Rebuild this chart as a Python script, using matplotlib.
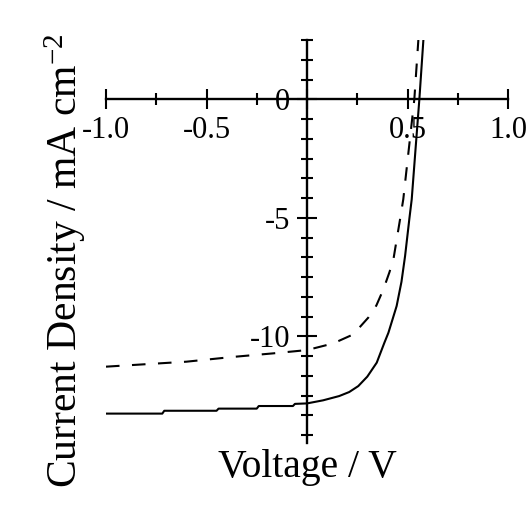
import matplotlib
matplotlib.use("Agg")
import matplotlib.pyplot as plt
from matplotlib.ticker import MultipleLocator, FuncFormatter

plt.rcParams['font.family'] = ['Liberation Serif', 'DejaVu Serif']
plt.rcParams['mathtext.fontset'] = 'custom'
plt.rcParams['mathtext.rm'] = 'Liberation Serif'
plt.rcParams['mathtext.it'] = 'Liberation Serif:italic'
plt.rcParams['axes.unicode_minus'] = False

# Solid curve (J-V)
v_solid = [-1.0, -0.72, -0.71, -0.45, -0.44, -0.25, -0.24, -0.07, -0.06, 0.0,
           0.08, 0.16, 0.21, 0.255, 0.30, 0.347, 0.385, 0.405, 0.425, 0.446, 0.47, 0.488,
           0.509, 0.521, 0.54, 0.559, 0.579]
j_solid = [-13.26, -13.26, -13.14, -13.14, -13.05, -13.05, -12.94, -12.94, -12.85, -12.83,
           -12.7, -12.52, -12.35, -12.1, -11.7, -11.11, -10.27, -9.85, -9.3, -8.72, -7.7, -6.61,
           -5.06, -4.22, -2.1, 0.0, 2.5]

# Dashed curve (J-V)
v_dash = [-1.0, -0.6, -0.37, -0.17, 0.0, 0.13, 0.23, 0.305, 0.345, 0.38, 0.41, 0.43, 0.463, 0.479,
          0.50, 0.534, 0.554]
j_dash = [-11.28, -11.07, -10.87, -10.72, -10.58, -10.3, -9.92, -9.21, -8.7, -8.02, -7.3, -6.75,
          -5.06, -4.22, -2.6, 0.0, 2.5]

W, H = 528, 514
fig = plt.figure(figsize=(W / 100, H / 100), dpi=100)
ax = fig.add_axes([106 / W, (H - 443) / H, 402 / W, 403 / H])
ax.set_xlim(-1.0, 1.0)
ax.set_ylim(-14.5, 2.5)

ax.plot(v_solid, j_solid, color='black', lw=1.5, solid_joinstyle='round')
ax.plot(v_dash, j_dash, color='black', lw=1.5, linestyle=(0, (6.5, 6)))

for s in ['top', 'right']:
    ax.spines[s].set_visible(False)
ax.spines['left'].set_position(('data', 0))
ax.spines['bottom'].set_position(('data', 0))
ax.spines['left'].set_linewidth(1.7)
ax.spines['bottom'].set_linewidth(1.7)

ax.xaxis.set_major_locator(MultipleLocator(0.5))
ax.xaxis.set_minor_locator(MultipleLocator(0.25))
ax.yaxis.set_major_locator(MultipleLocator(5))
ax.yaxis.set_minor_locator(MultipleLocator(5 / 6))
ax.xaxis.set_major_formatter(FuncFormatter(lambda v, p: '' if abs(v) < 1e-9 else f'{v:.1f}'))
ax.yaxis.set_major_formatter(FuncFormatter(lambda v, p: f'{v:.0f}'))

ax.tick_params(which='major', direction='inout', length=14.4, width=1.5, labelsize=22, pad=5)
ax.tick_params(which='minor', direction='inout', length=8.6, width=1.5)

fig.text(307 / W, 1 - 477 / H, 'Voltage / V', ha='center', va='baseline', fontsize=28.5)
fig.text(65.5 / W, 1 - 260.5 / H, 'Current Density / mA cm$^{-2}$', ha='center', va='center',
         rotation=90, fontsize=30)

fig.savefig('out.png', dpi=100)
